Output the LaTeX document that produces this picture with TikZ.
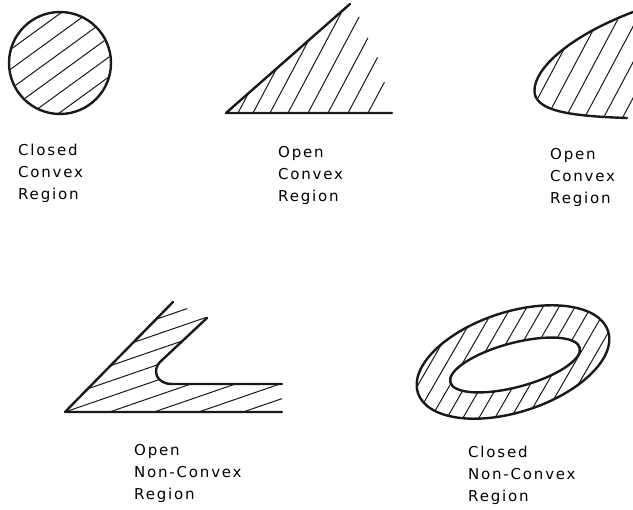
\documentclass[tikz,border=0pt]{standalone}
\usepackage{fontspec}
\newfontfamily\regionfont[LetterSpace=12]{DejaVu Sans}
\usepackage{tikz}
\usetikzlibrary{positioning}
\definecolor{inkblack}{RGB}{25,25,25}

\begin{document}
\begin{tikzpicture}[x=1pt, y=-1pt,
    outline/.style={line width=2.4pt, inkblack, line cap=round, line join=round},
    hatch/.style={line width=1pt, inkblack},
    regionlabel/.style={anchor=base west, inner sep=0pt, align=left,
        font=\regionfont\fontsize{15}{22}\selectfont}]
    \useasboundingbox (0,0) rectangle (633,510);

    % Closed convex region
    \begin{scope}
        \clip (60,63) circle (50);
        \foreach \d in {-40,-24,...,40}
            \draw[hatch, shift={(60,63)}, rotate=36] (-60,\d) -- (60,\d);
    \end{scope}
    \draw[outline] (60,63) circle (51);
    \node[regionlabel] (closedconvex) at (18,200) {Closed\\Convex\\Region};

    % Open convex region, wedge
    \foreach \x/\l in {238/22,253/50,270/82,288/116,308/109,328/85,348/63,368/35}
        \draw[hatch] (\x,113) -- ++(-62:\l);
    \draw[outline] (350,4) -- (226,113) -- (392,113);
    \node[regionlabel] (openwedge) at (278,202) {Open\\Convex\\Region};

    % Open convex region, curved edge
    \begin{scope}
        \clip (633,12) .. controls (560,40) and (530,75) .. (535,95)
            .. controls (540,110) and (565,116) .. (627,118)
            -- (640,118) -- (640,0) -- cycle;
        \foreach \x in {521,540,...,654}
            \draw[hatch] (\x,130) -- ++(-62:160);
    \end{scope}
    \draw[outline] (633,12) .. controls (560,40) and (530,75) .. (535,95)
        .. controls (540,110) and (565,116) .. (627,118);
    \node[regionlabel] (opencurve) at (550,204) {Open\\Convex\\Region};

    % Open non-convex region
    \begin{scope}
        \clip (65,412) -- (173,302) -- (207,318) -- (160,362)
            .. controls (152,370) and (156,384) .. (172,384)
            -- (282,384) -- (282,412) -- cycle;
        \foreach \d in {-72.5,-58,...,72.5}
            \draw[hatch, shift={(65,412)}, rotate=19] (-40,\d) -- (320,\d);
    \end{scope}
    \draw[outline] (173,302) -- (65,412) -- (282,412);
    \draw[outline] (207,318) -- (160,362)
        .. controls (152,370) and (156,384) .. (172,384) -- (282,384);
    \node[regionlabel] (opennonconvex) at (134,500) {Open\\Non-Convex\\Region};

    % Closed non-convex region (ring)
    \begin{scope}
        \clip[rotate around={18:(513,362)}] (513,362) ellipse [x radius=100, y radius=50];
        \foreach \x in {360,376,...,650}
            \draw[hatch] (\x,430) -- ++(-60:160);
    \end{scope}
    \fill[white, rotate around={15:(515,365)}] (515,365) ellipse [x radius=67, y radius=22];
    \draw[outline, rotate around={18:(513,362)}] (513,362) ellipse [x radius=100, y radius=50];
    \draw[outline, rotate around={15:(515,365)}] (515,365) ellipse [x radius=67, y radius=22];
    \node[regionlabel] (closednonconvex) at (468,502) {Closed\\Non-Convex\\Region};
\end{tikzpicture}
\end{document}
